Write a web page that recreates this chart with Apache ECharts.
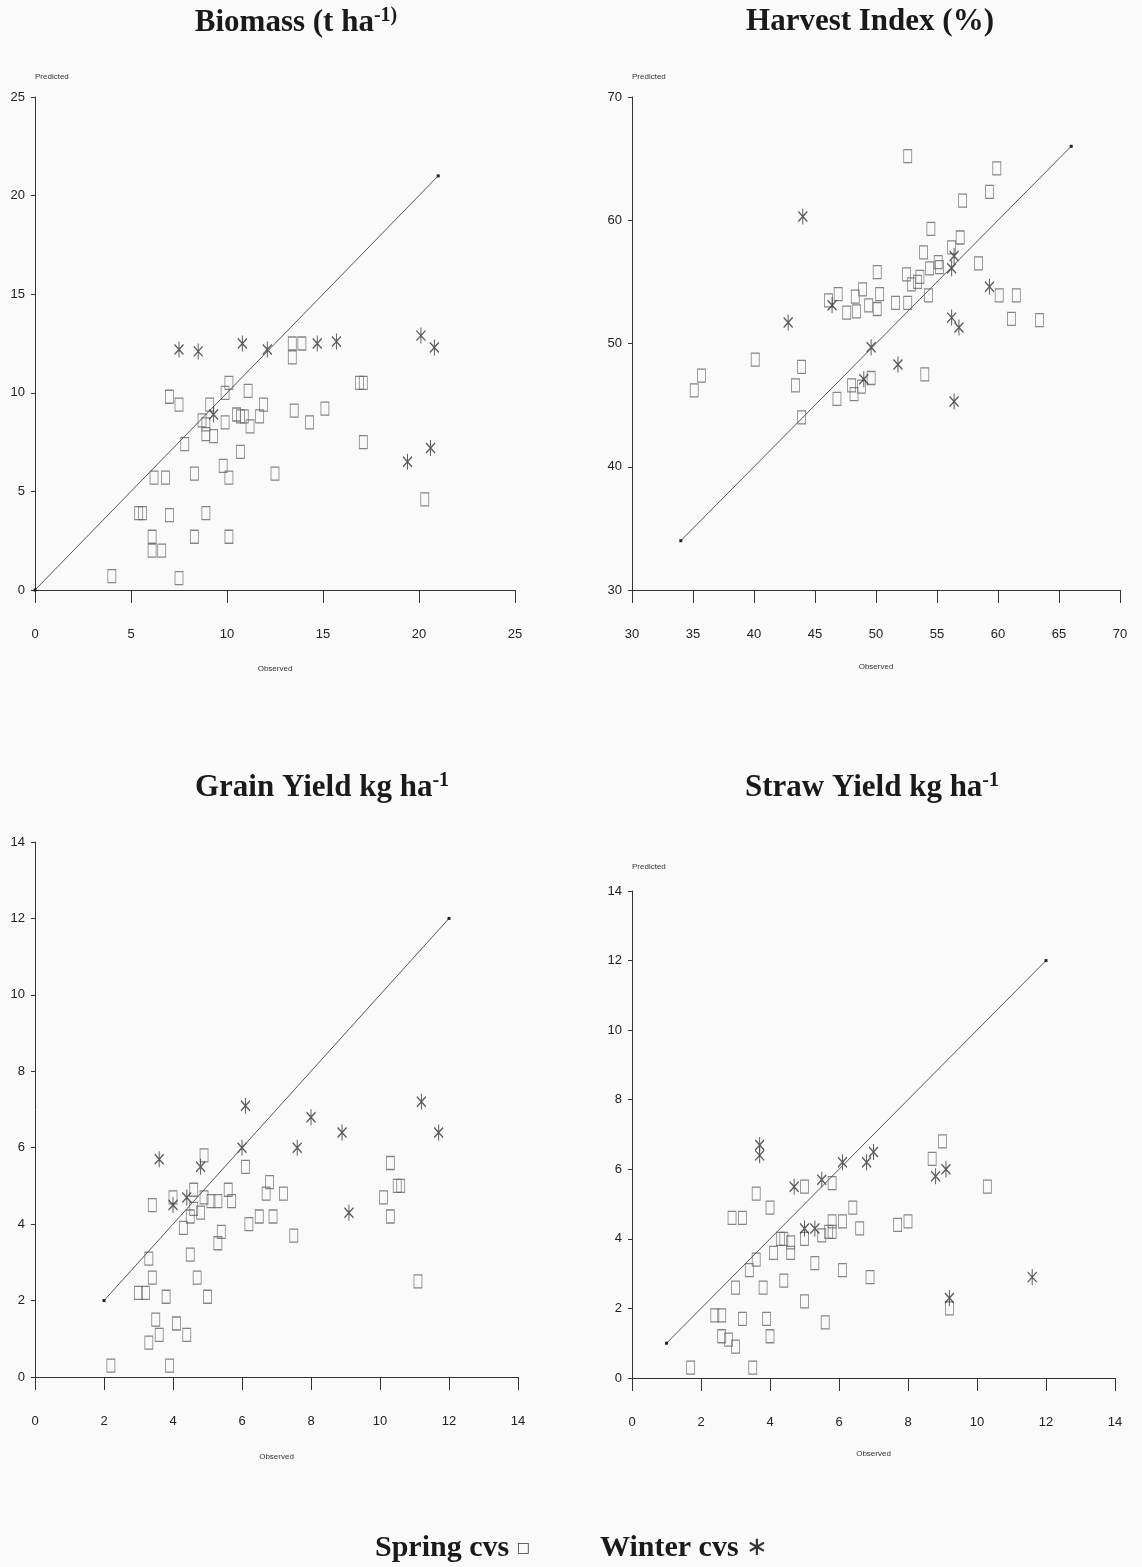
<!DOCTYPE html>
<html>
<head>
<meta charset="utf-8">
<script src="https://cdn.jsdelivr.net/npm/echarts@6/dist/echarts.min.js"></script>
<style>
html,body{margin:0;padding:0;background:#fafafa;}
#chart{width:1142px;height:1567px;}
</style>
</head>
<body>
<div id="chart"></div>
<script>
// ---- Data: [observed, predicted] ----
const biomassSpring = [[4.0,0.7],[7.5,0.6],[5.4,3.9],[5.6,3.9],[7.0,3.8],[8.9,3.9],[6.1,2.7],[6.1,2.0],[6.6,2.0],[8.3,2.7],[10.1,2.7],[6.2,5.7],[6.8,5.7],[8.3,5.9],[10.1,5.7],[9.8,6.3],[12.5,5.9],[7.8,7.4],[10.7,7.0],[7.0,9.8],[7.5,9.4],[10.1,10.5],[9.9,10.0],[11.1,10.1],[9.1,9.4],[11.9,9.4],[8.7,8.6],[8.9,8.4],[9.9,8.5],[10.5,8.9],[10.7,8.8],[10.9,8.8],[11.7,8.8],[11.2,8.3],[8.9,7.9],[9.3,7.8],[13.5,9.1],[15.1,9.2],[14.3,8.5],[13.4,12.5],[13.4,11.8],[13.9,12.5],[16.9,10.5],[17.1,10.5],[17.1,7.5],[20.3,4.6]];
const biomassWinter = [[7.5,12.2],[8.5,12.1],[10.8,12.5],[12.1,12.2],[14.7,12.5],[15.7,12.6],[20.1,12.9],[20.8,12.3],[20.6,7.2],[19.4,6.5],[9.3,8.9]];
const biomassLine = [[0,0],[21,21]];

const hiSpring = [[35.7,47.4],[35.1,46.2],[40.1,48.7],[43.9,48.1],[43.4,46.6],[43.9,44.0],[46.8,45.5],[48.0,46.6],[48.2,45.9],[46.1,53.5],[46.9,54.0],[47.6,52.5],[48.3,53.8],[48.4,52.6],[52.6,65.2],[59.9,64.2],[59.3,62.3],[57.1,61.6],[54.5,59.3],[56.9,58.6],[56.2,57.8],[53.9,57.4],[50.1,55.8],[55.1,56.6],[55.2,56.2],[54.4,56.1],[52.5,55.6],[53.6,55.4],[53.4,55.0],[52.9,54.8],[48.9,54.4],[50.3,54.0],[49.4,53.1],[50.1,52.8],[51.6,53.3],[52.6,53.3],[54.3,53.9],[58.4,56.5],[60.1,53.9],[61.5,53.9],[61.1,52.0],[63.4,51.9],[54.0,47.5],[49.6,47.2],[48.8,46.5]];
const hiWinter = [[44.0,60.3],[42.8,51.7],[46.4,53.1],[56.4,57.1],[56.2,56.1],[59.3,54.6],[56.2,52.1],[56.8,51.3],[49.6,49.7],[51.8,48.3],[49.0,47.1],[56.4,45.3]];
const hiLine = [[34,34],[66,66]];

const grainSpring = [[4.9,5.8],[6.1,5.5],[3.4,4.5],[4.0,4.7],[4.6,4.9],[4.6,4.4],[4.8,4.3],[4.9,4.7],[5.1,4.6],[5.3,4.6],[5.6,4.9],[5.7,4.6],[6.8,5.1],[6.7,4.8],[7.2,4.8],[6.2,4.0],[6.5,4.2],[6.9,4.2],[7.5,3.7],[4.5,4.2],[4.3,3.9],[5.4,3.8],[5.3,3.5],[4.5,3.2],[3.3,3.1],[3.4,2.6],[4.7,2.6],[3.0,2.2],[3.2,2.2],[3.8,2.1],[5.0,2.1],[3.5,1.5],[4.1,1.4],[3.6,1.1],[4.4,1.1],[3.3,0.9],[2.2,0.3],[3.9,0.3],[10.3,5.6],[10.5,5.0],[10.6,5.0],[10.1,4.7],[10.3,4.2],[11.1,2.5]];
const grainWinter = [[6.1,7.1],[3.6,5.7],[6.0,6.0],[4.8,5.5],[4.4,4.7],[4.0,4.5],[8.0,6.8],[8.9,6.4],[7.6,6.0],[11.2,7.2],[11.7,6.4],[9.1,4.3]];
const grainLine = [[2,2],[12,12]];

const strawSpring = [[3.6,5.3],[5.0,5.5],[5.8,5.6],[4.0,4.9],[2.9,4.6],[3.2,4.6],[6.4,4.9],[5.8,4.5],[6.1,4.5],[6.6,4.3],[5.0,4.0],[5.5,4.1],[5.7,4.2],[5.8,4.2],[4.3,4.0],[4.4,4.0],[4.6,3.9],[4.6,3.6],[4.1,3.6],[3.6,3.4],[3.4,3.1],[5.3,3.3],[6.1,3.1],[6.9,2.9],[3.0,2.6],[3.8,2.6],[4.4,2.8],[5.0,2.2],[2.4,1.8],[2.6,1.8],[3.2,1.7],[3.9,1.7],[5.6,1.6],[2.6,1.2],[2.8,1.1],[3.0,0.9],[4.0,1.2],[1.7,0.3],[3.5,0.3],[9.0,6.8],[8.7,6.3],[10.3,5.5],[7.7,4.4],[8.0,4.5],[9.2,2.0]];
const strawWinter = [[3.7,6.7],[3.7,6.4],[4.7,5.5],[5.5,5.7],[6.1,6.2],[6.8,6.2],[7.0,6.5],[5.0,4.3],[5.3,4.3],[9.1,6.0],[8.8,5.8],[11.6,2.9],[9.2,2.3]];
const strawLine = [[1,1],[12,12]];

// axis ranges: [min, max, interval]
const biomassX = [0,25,5], biomassY = [0,25,5];
const hiX = [30,70,5], hiY = [30,70,10];
const grainX = [0,14,2], grainY = [0,14,2];
const strawX = [0,14,2], strawY = [0,14,2];

const titles = [
  {main:'Biomass (t ha', sup:'-1)'},
  {main:'Harvest Index (%)', sup:''},
  {main:'Grain Yield kg ha', sup:'-1'},
  {main:'Straw Yield kg ha', sup:'-1'}
];
const legendLabels = ['Spring cvs', 'Winter cvs'];

// ---- Styles ----
const axisColor = '#333';
const labelFont = 'Liberation Sans, Arial, sans-serif';
const serif = 'Liberation Serif, Times New Roman, serif';
const starPath = 'path://M5,0L5,16M0,3L10,13M10,3L0,13';

const grids = [
  {left:35, top:97, width:480, height:493},
  {left:632, top:97, width:488, height:493},
  {left:35, top:842, width:483, height:535},
  {left:632, top:891, width:483, height:487}
];

function makeX(i, r, gap){
  return {
    gridIndex:i, type:'value', min:r[0], max:r[1], interval:r[2],
    axisLine:{show:true, onZero:false, lineStyle:{color:axisColor, width:1}},
    axisTick:{show:true, length:13, lineStyle:{color:axisColor}},
    axisLabel:{margin:38, color:'#222', fontSize:13, fontFamily:labelFont},
    splitLine:{show:false},
    name:'Observed', nameLocation:'middle', nameGap:gap,
    nameTextStyle:{fontSize:8, color:'#333', fontFamily:labelFont}
  };
}
function makeY(i, r, name, gap){
  return {
    gridIndex:i, type:'value', min:r[0], max:r[1], interval:r[2],
    axisLine:{show:true, onZero:false, lineStyle:{color:axisColor, width:1}},
    axisTick:{show:true, length:4, lineStyle:{color:axisColor}},
    axisLabel:{margin:10, color:'#222', fontSize:13, fontFamily:labelFont},
    splitLine:{show:false},
    name:name, nameLocation:'end', nameGap:gap,
    nameTextStyle:{fontSize:8, color:'#333', fontFamily:labelFont, align:'left', verticalAlign:'middle'}
  };
}

function springSeries(i, data){
  return {type:'scatter', xAxisIndex:i, yAxisIndex:i, data:data, symbol:'rect', symbolSize:[8,13],
    itemStyle:{color:'rgba(0,0,0,0)', borderColor:'#666', borderWidth:1}, silent:true};
}
function winterSeries(i, data){
  return {type:'scatter', xAxisIndex:i, yAxisIndex:i, data:data, symbol:starPath, symbolSize:[9,16],
    itemStyle:{color:'rgba(0,0,0,0)', borderColor:'#333', borderWidth:1.3}, silent:true};
}
function lineSeries(i, data){
  return {type:'line', xAxisIndex:i, yAxisIndex:i, data:data, symbol:'rect', symbolSize:3,
    showSymbol:true, lineStyle:{color:'#555', width:1}, itemStyle:{color:'#222'}, silent:true};
}

function titleText(t, x, y){
  return {type:'text', x:x, y:y, style:{
    text:'{m|' + t.main + '}' + (t.sup ? '{s|' + t.sup + '}' : ''),
    align:'center', verticalAlign:'middle',
    rich:{
      m:{fontFamily:serif, fontWeight:'bold', fontSize:31, fill:'#1a1a1a', verticalAlign:'bottom'},
      s:{fontFamily:serif, fontWeight:'bold', fontSize:20, fill:'#1a1a1a', verticalAlign:'bottom', padding:[0,0,13,0]}
    }
  }};
}

const chart = echarts.init(document.getElementById('chart'), null, {renderer:'canvas'});
chart.setOption({
  backgroundColor:'#fafafa',
  animation:false,
  grid:grids,
  xAxis:[makeX(0,biomassX,75), makeX(1,hiX,73), makeX(2,grainX,76), makeX(3,strawX,72)],
  yAxis:[makeY(0,biomassY,'Predicted',20), makeY(1,hiY,'Predicted',20), makeY(2,grainY,'',20), makeY(3,strawY,'Predicted',24)],
  series:[
    lineSeries(0,biomassLine), springSeries(0,biomassSpring), winterSeries(0,biomassWinter),
    lineSeries(1,hiLine), springSeries(1,hiSpring), winterSeries(1,hiWinter),
    lineSeries(2,grainLine), springSeries(2,grainSpring), winterSeries(2,grainWinter),
    lineSeries(3,strawLine), springSeries(3,strawSpring), winterSeries(3,strawWinter)
  ],
  graphic:[
    titleText(titles[0], 296, 22),
    titleText(titles[1], 870, 22),
    titleText(titles[2], 322, 787),
    titleText(titles[3], 872, 787),
    {type:'text', x:375, y:1548, style:{
      text:'{b|' + legendLabels[0] + ' }{s|\u25A1}', verticalAlign:'middle', align:'left',
      rich:{b:{fontFamily:serif, fontWeight:'bold', fontSize:30, fill:'#1a1a1a'},
            s:{fontFamily:'DejaVu Sans, sans-serif', fontSize:14, fill:'#333'}}
    }},
    {type:'text', x:600, y:1548, style:{
      text:'{b|' + legendLabels[1] + ' }{s|\u2217}', verticalAlign:'middle', align:'left',
      rich:{b:{fontFamily:serif, fontWeight:'bold', fontSize:30, fill:'#1a1a1a'},
            s:{fontFamily:'DejaVu Sans, sans-serif', fontSize:26, fill:'#333'}}
    }}
  ]
});
</script>
</body>
</html>
